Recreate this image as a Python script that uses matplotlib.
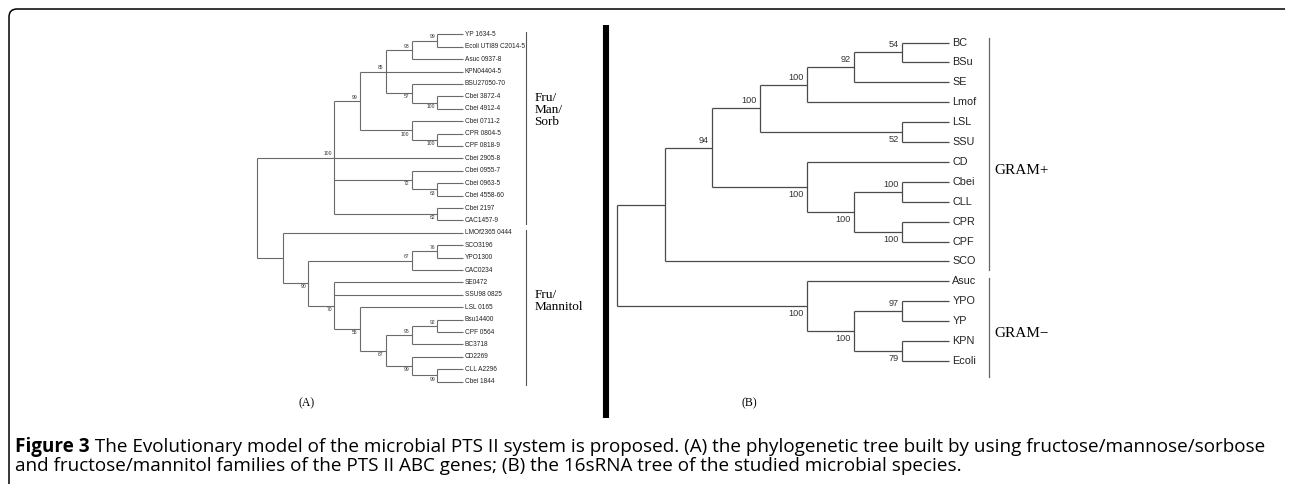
import matplotlib
matplotlib.use("Agg")
import matplotlib.pyplot as plt
from matplotlib.path import Path
from matplotlib.patches import PathPatch

# ---- data: tree topologies, each internal node = [children..., bootstrap] ----
tree_a_upper = [
    [
        [[["YP 1634-5", "Ecoli UTI89 C2014-5", 99], "Asuc 0937-8", 93],
         "KPN04404-5",
         ["BSU27050-70", ["Cbei 3872-4", "Cbei 4912-4", 100], 57],
         85],
        ["Cbei 0711-2", ["CPR 0804-5", "CPF 0818-9", 100], 100],
        99],
    "Cbei 2905-8",
    ["Cbei 0955-7", ["Cbei 0963-5", "Cbei 4558-60", 63], 72],
    ["Cbei 2197", "CAC1457-9", 62],
    100]
tree_a_lower = [
    "LMOf2365 0444",
    [[["SCO3196", "YPO1300", 76], "CAC0234", 67],
     ["SE0472", "SSU98 0825",
      ["LSL 0165",
       [[["Bsu14400", "CPF 0564", 92], "BC3718", 95],
        ["CD2269", ["CLL A2296", "Cbei 1844", 99], 99],
        67],
       55],
      70],
     90],
    None]
tree_a = [tree_a_upper, tree_a_lower, None]

tree_b = [
    [[[[[["BC", "BSu", 54], "SE", 92], "Lmof", 100], ["LSL", "SSU", 52], 100],
      ["CD", [["Cbei", "CLL", 100], ["CPR", "CPF", 100], 100], 100],
      94],
     "SCO", None],
    ["Asuc", [["YPO", "YP", 97], ["KPN", "Ecoli", 79], 100], 100],
    None]

groups_a = [("Fru/\nMan/\nSorb", 0, 15), ("Fru/\nMannitol", 16, 28)]
groups_b = [("GRAM+", 0, 11), ("GRAM\u2212", 12, 16)]

caption_bold = "Figure 3"
caption_line1 = (" The Evolutionary model of the microbial PTS II system is proposed. "
                 "(A) the phylogenetic tree built by using fructose/mannose/sorbose")
caption_line2 = ("and fructose/mannitol families of the PTS II ABC genes; (B) the 16sRNA "
                 "tree of the studied microbial species.")


def layout(node, leaves):
    """Return a dict with y (leaf index units), height and children."""
    if isinstance(node, str):
        leaves.append(node)
        return {"name": node, "y": len(leaves) - 1, "h": 0, "kids": [], "sup": None}
    kids = [layout(c, leaves) for c in node[:-1]]
    return {"name": None, "y": (kids[0]["y"] + kids[-1]["y"]) / 2,
            "h": 1 + max(k["h"] for k in kids), "kids": kids, "sup": node[-1]}


def draw_tree(ax, node, top, lc, lw, sup_size, sup_off, leaf_size, leaf_pad):
    x = top - node["h"]
    kids = node["kids"]
    ax.plot([x, x], [kids[0]["y"], kids[-1]["y"]], color=lc, lw=lw,
            solid_capstyle="butt", clip_on=False)
    for i, k in enumerate(kids):
        kx = top - k["h"]
        ax.plot([x, kx], [k["y"], k["y"]], color=lc, lw=lw,
                solid_capstyle="butt", clip_on=False)
        if k["kids"]:
            draw_tree(ax, k, top, lc, lw, sup_size, sup_off, leaf_size, leaf_pad)
            if k["sup"] is not None:
                first = i == 0
                ax.annotate(str(k["sup"]), (kx, k["y"]),
                            xytext=(-sup_off[0], sup_off[1] if first else -sup_off[1]),
                            textcoords="offset points", ha="right",
                            va="bottom" if first else "top",
                            fontsize=sup_size, color="#333333",
                            family="Liberation Sans")
        else:
            ax.annotate(k["name"], (kx, k["y"]), xytext=(leaf_pad, 0),
                        textcoords="offset points", ha="left", va="center",
                        fontsize=leaf_size, color="#222222",
                        family="Liberation Sans")


W, H = 1290, 484
fig = plt.figure(figsize=(W / 100, H / 100), dpi=100)
fig.patch.set_facecolor("white")

# background overlay axes in pixel units
bg = fig.add_axes([0, 0, 1, 1])
bg.set_xlim(0, W)
bg.set_ylim(H, 0)
bg.axis("off")

# rounded frame (top and left edges)
r = 8
frame = Path([(1285, 9), (9 + r, 9), (9, 9), (9, 9 + r), (9, H)],
             [Path.MOVETO, Path.LINETO, Path.CURVE3, Path.CURVE3, Path.LINETO])
bg.add_patch(PathPatch(frame, fill=False, lw=1.1, edgecolor="black"))

# thick separator between panels
bg.plot([606, 606], [25, 418], color="black", lw=4.4, solid_capstyle="butt")

bg.text(307, 403, "(A)", ha="center", va="center", fontsize=8.5,
        family="Liberation Serif")
bg.text(749, 403, "(B)", ha="center", va="center", fontsize=8.5,
        family="Liberation Serif")

# ---- panel A ----
leaves_a = []
root_a = layout(tree_a, leaves_a)
ax_a = fig.add_axes([256.7 / W, 1 - 381.7 / H, 206.6 / W, 347.4 / H])
ax_a.set_xlim(0, root_a["h"])
ax_a.set_ylim(len(leaves_a) - 1, 0)
ax_a.axis("off")
draw_tree(ax_a, root_a, root_a["h"], "#6a6a6a", 0.8, 3.6, (1.6, 0.9), 4.7, 1.2)
for label, lo, hi in groups_a:
    ax_a.plot([root_a["h"] + 2.42] * 2, [lo - 0.2, hi + 0.3], color="#555555",
              lw=0.8, clip_on=False)
ax_a.text(root_a["h"] + 2.75, 6.1, groups_a[0][0], ha="left", va="center",
          fontsize=9.5, family="Liberation Serif", linespacing=1.0)
ax_a.text(root_a["h"] + 2.75, 21.5, groups_a[1][0], ha="left", va="center",
          fontsize=9.5, family="Liberation Serif", linespacing=1.0)

# ---- panel B ----
leaves_b = []
root_b = layout(tree_b, leaves_b)
ax_b = fig.add_axes([617.3 / W, 1 - 361 / H, 332 / W, 318.5 / H])
ax_b.set_xlim(0, root_b["h"])
ax_b.set_ylim(len(leaves_b) - 1, 0)
ax_b.axis("off")
draw_tree(ax_b, root_b, root_b["h"], "#4a4a4a", 0.9, 6.6, (2.4, 2.2), 7.8, 2.2)
ax_b.plot([root_b["h"] + 0.84] * 2, [-0.22, 11.44], color="#666666", lw=0.9,
          clip_on=False)
ax_b.plot([root_b["h"] + 0.84] * 2, [11.85, 16.8], color="#666666", lw=0.9,
          clip_on=False)
ax_b.text(root_b["h"] + 0.95, 6.44, groups_b[0][0], ha="left", va="center",
          fontsize=11, family="Liberation Serif")
ax_b.text(root_b["h"] + 0.95, 14.6, groups_b[1][0], ha="left", va="center",
          fontsize=11, family="Liberation Serif")

# ---- caption ----
cap_size = 13.6
t_bold = bg.text(15, 451.7, caption_bold, ha="left", va="baseline",
                 fontsize=cap_size, fontweight="bold", family="Open Sans")
renderer = fig.canvas.get_renderer()
bb = t_bold.get_window_extent(renderer)
bg.text(15 + bb.width, 451.7, caption_line1, ha="left", va="baseline",
        fontsize=cap_size, family="Open Sans")
bg.text(15, 471, caption_line2, ha="left", va="baseline", fontsize=cap_size,
        family="Open Sans")

fig.savefig("out.png", dpi=100)
